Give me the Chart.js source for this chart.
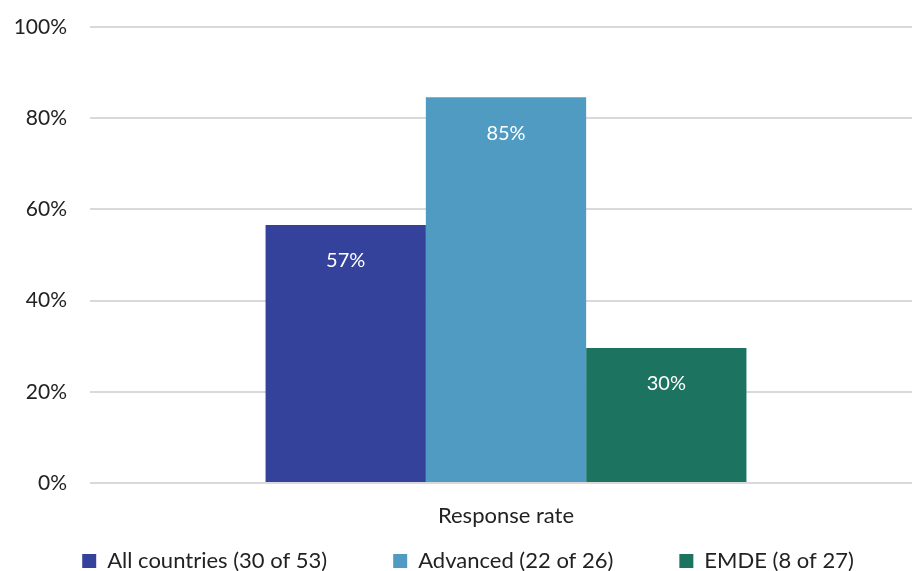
<!DOCTYPE html>
<html>
<head>
<meta charset="utf-8">
<script src="https://cdn.jsdelivr.net/npm/chart.js@4"></script>
<style>
  html, body { margin: 0; padding: 0; background: #fff; overflow: hidden; }
  #wrap { width: 922px; height: 582px; }
</style>
</head>
<body>
<div id="wrap"><canvas id="chart" width="922" height="582"></canvas></div>
<script>
const categories = ['Response rate'];
const seriesNames = ['All countries (30 of 53)', 'Advanced (22 of 26)', 'EMDE (8 of 27)'];
const seriesValues = [[56.6], [84.6], [29.6]];
const valueLabels = ['57%', '85%', '30%'];
const colors = ['#35429b', '#509bc2', '#1c7360'];

const fontFamily = 'Lato, "Open Sans", sans-serif';

// white value labels inside the top of each bar
const barLabels = {
  id: 'barLabels',
  afterDatasetsDraw(chart) {
    const ctx = chart.ctx;
    ctx.save();
    ctx.fillStyle = '#ffffff';
    ctx.font = '20px ' + fontFamily;
    ctx.textAlign = 'center';
    ctx.textBaseline = 'middle';
    chart.data.datasets.forEach((ds, i) => {
      chart.getDatasetMeta(i).data.forEach(bar => {
        ctx.fillText(valueLabels[i], bar.x, bar.y + 36);
      });
    });
    ctx.restore();
  }
};

// the x axis is squeezed to nothing so the legend gap holds its label;
// give it room back after layout so its label isn't clipped away
const xLabelRoom = {
  id: 'xLabelRoom',
  afterLayout(chart) {
    const s = chart.scales.x;
    s.height = 60;
    s.bottom = s.top + 60;
  }
};

new Chart(document.getElementById('chart'), {
  type: 'bar',
  data: {
    labels: categories,
    datasets: seriesNames.map((name, i) => ({
      label: name,
      data: seriesValues[i],
      backgroundColor: colors[i],
      borderWidth: 0,
      barPercentage: 1,
      categoryPercentage: 0.578
    }))
  },
  options: {
    responsive: false,
    animation: false,
    layout: { padding: { top: 0, left: 14, right: 0, bottom: 0 } },
    plugins: {
      legend: {
        position: 'bottom',
        labels: {
          color: '#222',
          font: { size: 22, family: fontFamily },
          boxWidth: 14,
          boxHeight: 14,
          padding: 66
        }
      },
      tooltip: { enabled: false }
    },
    scales: {
      x: {
        grid: { display: false },
        border: { display: false },
        ticks: { color: '#222', font: { size: 22, family: fontFamily }, padding: 12, autoSkip: false },
        afterFit: s => { s.height = 1; }
      },
      y: {
        min: 0,
        max: 100,
        ticks: {
          stepSize: 20,
          color: '#222',
          font: { size: 21, family: fontFamily },
          padding: 23,
          callback: v => v + '%'
        },
        grid: { color: '#d9d9d9', lineWidth: 2, drawTicks: false },
        border: { display: false },
        afterFit: s => { s.width = 76; s.paddingTop = 27; }
      }
    }
  },
  plugins: [barLabels, xLabelRoom]
});
</script>
</body>
</html>
